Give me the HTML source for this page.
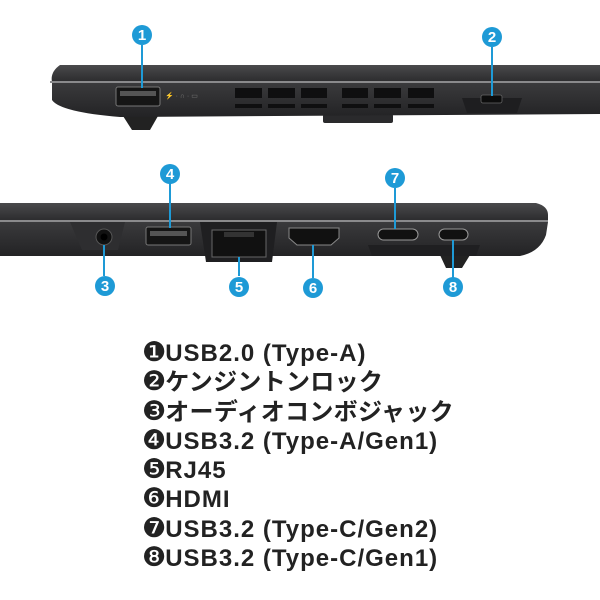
<!DOCTYPE html>
<html><head><meta charset="utf-8"><style>
body{margin:0;background:#fff;width:600px;height:600px;overflow:hidden;position:relative}
.t{position:absolute;left:142px;font-family:"Liberation Sans","Noto Sans CJK JP",sans-serif;font-weight:bold;font-size:24px;color:#222;line-height:29.3px;white-space:nowrap;letter-spacing:0.3px}
.t div{height:29.3px}
.t .l{letter-spacing:1px}
.n{font-family:"DejaVu Sans",sans-serif;font-size:27px;font-weight:normal;letter-spacing:0;line-height:20px;margin-right:-1px}
</style></head><body>
<svg width="600" height="600" style="position:absolute;left:0;top:0">
<defs>
<linearGradient id="lid" x1="0" y1="0" x2="0" y2="1"><stop offset="0" stop-color="#4a4a4c"/><stop offset="1" stop-color="#2b2b2d"/></linearGradient>
<linearGradient id="base" x1="0" y1="0" x2="0" y2="1"><stop offset="0" stop-color="#3a3a3c"/><stop offset="1" stop-color="#232325"/></linearGradient>
</defs>
<path d="M123 116 L158 116 L150 130 L132 130 Z" fill="#222"/>
<rect x="323" y="114" width="70" height="9" rx="2" fill="#2a2a2c"/>
<path d="M60 65 L600 65 L600 82 L52 82 Q50 72 60 65 Z" fill="url(#lid)"/>
<rect x="50" y="81" width="550" height="2" fill="#8a8a8c"/>
<path d="M52 83 L600 83 L600 114 L120 117 Q60 112 52 100 Z" fill="url(#base)"/>
<path d="M462 98 L522 98 L517 113 L467 113 Z" fill="#1e1e20"/>
<rect x="116" y="87" width="44" height="19" rx="2" fill="#161616" stroke="#777" stroke-width="1"/>
<rect x="120" y="91" width="36" height="5" fill="#555"/>
<g fill="#0f0f10">
<rect x="235" y="88" width="27" height="10"/><rect x="268" y="88" width="27" height="10"/><rect x="301" y="88" width="26" height="10"/>
<rect x="342" y="88" width="26" height="10"/><rect x="374" y="88" width="27" height="10"/><rect x="408" y="88" width="26" height="10"/>
<rect x="235" y="104" width="27" height="4"/><rect x="268" y="104" width="27" height="4"/><rect x="301" y="104" width="26" height="4"/>
<rect x="342" y="104" width="26" height="4"/><rect x="374" y="104" width="27" height="4"/><rect x="408" y="104" width="26" height="4"/>
</g>
<text x="165" y="98" font-family="Liberation Sans" font-size="7" fill="#777">⚡ · ∩ · ▭</text>
<rect x="481" y="95" width="21" height="8" rx="2" fill="#0c0c0c" stroke="#666" stroke-width="0.8"/>
<path d="M440 255 L470 255 L462 268 L446 268 Z" fill="#222"/>
<path d="M0 203 L536 203 Q548 206 548 215 L548 221 L0 221 Z" fill="url(#lid)"/>
<rect x="0" y="220" width="548" height="2" fill="#8a8a8c"/>
<path d="M0 222 L548 222 L546 235 Q540 252 520 256 L0 256 Z" fill="url(#base)"/>
<path d="M200 222 L277 222 L272 262 L206 262 Z" fill="#1f1f21"/>
<path d="M368 245 L480 245 L476 256 L372 256 Z" fill="#1f1f21"/>
<path d="M70 222 L125 222 L118 250 L82 250 Z" fill="#2e2e30"/>
<circle cx="104" cy="237" r="8" fill="#111" stroke="#555"/>
<circle cx="104" cy="237" r="3.5" fill="#000"/>
<rect x="146" y="227" width="45" height="18" rx="2" fill="#151515" stroke="#777"/>
<rect x="150" y="231" width="37" height="5" fill="#555"/>
<rect x="212" y="230" width="54" height="27" fill="#111" stroke="#666"/>
<rect x="224" y="232" width="30" height="5" fill="#333"/>
<path d="M289 228 L339 228 L339 238 L331 245 L297 245 L289 238 Z" fill="#111" stroke="#888"/>
<rect x="378" y="229" width="40" height="11" rx="5.5" fill="#111" stroke="#999"/>
<rect x="439" y="229" width="29" height="11" rx="5.5" fill="#111" stroke="#999"/>
<g stroke="#1e9ad6" stroke-width="2">
<line x1="142" y1="45" x2="142" y2="88"/>
<line x1="492" y1="47" x2="492" y2="96"/>
<line x1="170" y1="182" x2="170" y2="228"/>
<line x1="104" y1="245" x2="104" y2="276"/>
<line x1="239" y1="257" x2="239" y2="276"/>
<line x1="313" y1="245" x2="313" y2="278"/>
<line x1="395" y1="188" x2="395" y2="229"/>
<line x1="453" y1="240" x2="453" y2="278"/>
</g>
<g fill="#1e9ad6">
<circle cx="142" cy="35" r="10"/><circle cx="492" cy="37" r="10"/><circle cx="170" cy="174" r="10"/>
<circle cx="105" cy="286" r="10"/><circle cx="239" cy="287" r="10"/><circle cx="313" cy="288" r="10"/>
<circle cx="395" cy="178" r="10"/><circle cx="453" cy="287" r="10"/>
</g>
<g fill="#fff" font-family="Liberation Sans" font-weight="bold" font-size="15" text-anchor="middle">
<text x="142" y="40">1</text><text x="492" y="42">2</text><text x="170" y="179">4</text>
<text x="105" y="291">3</text><text x="239" y="292">5</text><text x="313" y="293">6</text>
<text x="395" y="183">7</text><text x="453" y="292">8</text>
</g>
</svg>
<div class="t" style="top:339px">
<div class="l"><span class="n">❶</span>USB2.0 (Type-A)</div>
<div><span class="n">❷</span>ケンジントンロック</div>
<div><span class="n">❸</span>オーディオコンボジャック</div>
<div class="l"><span class="n">❹</span>USB3.2 (Type-A/Gen1)</div>
<div class="l"><span class="n">❺</span>RJ45</div>
<div class="l"><span class="n">❻</span>HDMI</div>
<div class="l"><span class="n">❼</span>USB3.2 (Type-C/Gen2)</div>
<div class="l"><span class="n">❽</span>USB3.2 (Type-C/Gen1)</div>
</div>
</body></html>
